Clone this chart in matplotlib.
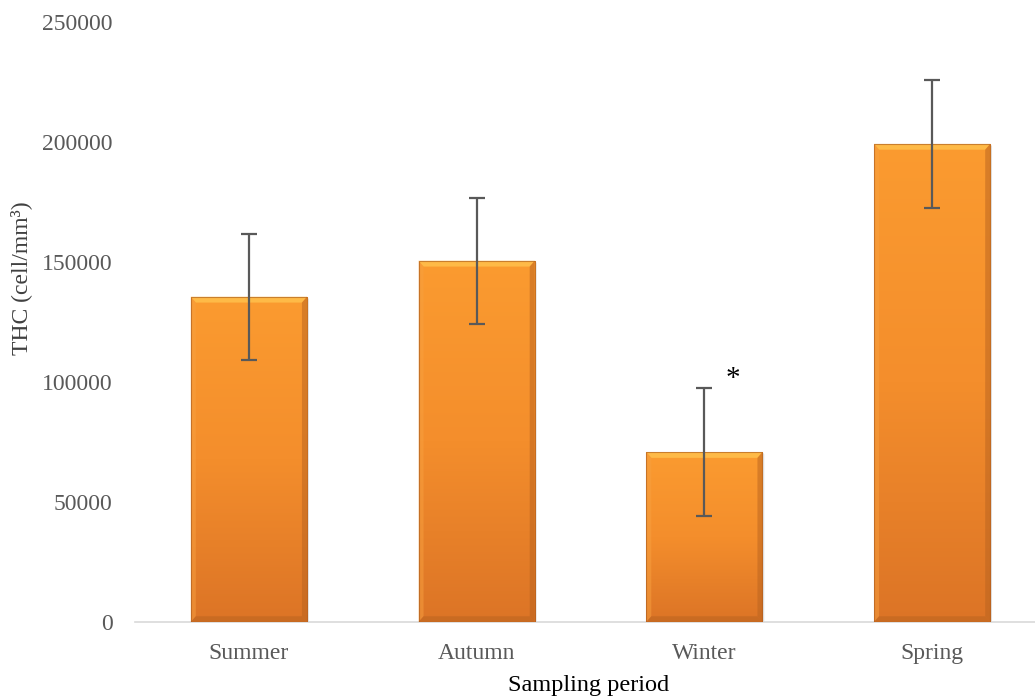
import numpy as np
import matplotlib
matplotlib.use("Agg")
import matplotlib.pyplot as plt
from matplotlib.colors import LinearSegmentedColormap
from matplotlib.patches import Polygon

# data
seasons = ["Summer", "Autumn", "Winter", "Spring"]
thc_mean = [135500, 150500, 70800, 199200]
thc_err = [26300, 26300, 26500, 26600]
star_flags = [False, False, True, False]

plt.rcParams['font.family'] = ['Liberation Serif', 'DejaVu Serif']

fig = plt.figure(figsize=(10.35, 6.99), dpi=100)
ax = fig.add_axes([135 / 1035, (699 - 622) / 699, 911 / 1035, 600 / 699])

x = np.arange(len(seasons))
width = 0.51
bars = ax.bar(x, thc_mean, width=width, color='#F7922F', zorder=2)

# orange gradient with bevel, in the style of the original
cmap = LinearSegmentedColormap.from_list('org', ['#DC7426', '#F48E2C', '#FB9B30'])
grad = np.linspace(0, 1, 256).reshape(-1, 1)
bx = 0.022   # bevel width in x units
by = 2400    # bevel height in y units
for b in bars:
    x0, w, h = b.get_x(), b.get_width(), b.get_height()
    im = ax.imshow(grad, cmap=cmap, aspect='auto', origin='lower',
                   extent=[x0, x0 + w, 0, h], zorder=3)
    im.set_clip_path(b)
    # top bevel
    ax.add_patch(Polygon([[x0, h], [x0 + w, h], [x0 + w - bx, h - by], [x0 + bx, h - by]],
                         closed=True, color='#FFBE4A', lw=0, alpha=0.9, zorder=4))
    # left bevel
    ax.add_patch(Polygon([[x0, 0], [x0, h], [x0 + bx, h - by], [x0 + bx, by]],
                         closed=True, color='#F7A040', lw=0, alpha=0.5, zorder=4))
    # right bevel
    ax.add_patch(Polygon([[x0 + w, 0], [x0 + w, h], [x0 + w - bx, h - by], [x0 + w - bx, by]],
                         closed=True, color='#B86320', lw=0, alpha=0.5, zorder=4))
    # bottom bevel
    ax.add_patch(Polygon([[x0, 0], [x0 + w, 0], [x0 + w - bx, by], [x0 + bx, by]],
                         closed=True, color='#B86320', lw=0, alpha=0.5, zorder=4))
    # thin darker outline
    ax.add_patch(Polygon([[x0, 0], [x0, h], [x0 + w, h], [x0 + w, 0]],
                         closed=True, fill=False, edgecolor='#A8591C', lw=0.8, alpha=0.6, zorder=4))
    # soft shadow
    ax.add_patch(Polygon([[x0 + w, 0], [x0 + w + 0.008, 0], [x0 + w + 0.008, h - 900], [x0 + w, h]],
                         closed=True, color='#999999', lw=0, alpha=0.3, zorder=1))

ax.errorbar(x, thc_mean, yerr=thc_err, fmt='none', ecolor='#595959',
            elinewidth=1.6, capsize=6, capthick=1.6, zorder=5)

for i, flag in enumerate(star_flags):
    if flag:
        ax.text(x[i] + 0.125, thc_mean[i] + thc_err[i] - 1500, '*', fontsize=21,
                ha='center', va='bottom', color='black', zorder=6)

ax.set_xlim(-0.5, len(seasons) - 0.5)
ax.set_ylim(0, 250000)
ax.set_yticks(np.arange(0, 250001, 50000))
ax.set_xticks(x)
ax.set_xticklabels(seasons)
ax.tick_params(axis='both', length=0, labelsize=17, colors='#595959')
ax.tick_params(axis='x', pad=15)
ax.tick_params(axis='y', pad=16)
for s in ['top', 'right', 'left']:
    ax.spines[s].set_visible(False)
ax.spines['bottom'].set_color('#D9D9D9')
ax.spines['bottom'].set_linewidth(1.2)

fig.text(21 / 1035, 1 - 278 / 699, 'THC (cell/mm³)', fontsize=17, rotation=90,
         ha='center', va='center', color='#404040')
fig.text(589 / 1035, 1 - 686 / 699, 'Sampling period', fontsize=17.5,
         ha='center', va='center', color='black')

fig.savefig('out.png', dpi=100)
